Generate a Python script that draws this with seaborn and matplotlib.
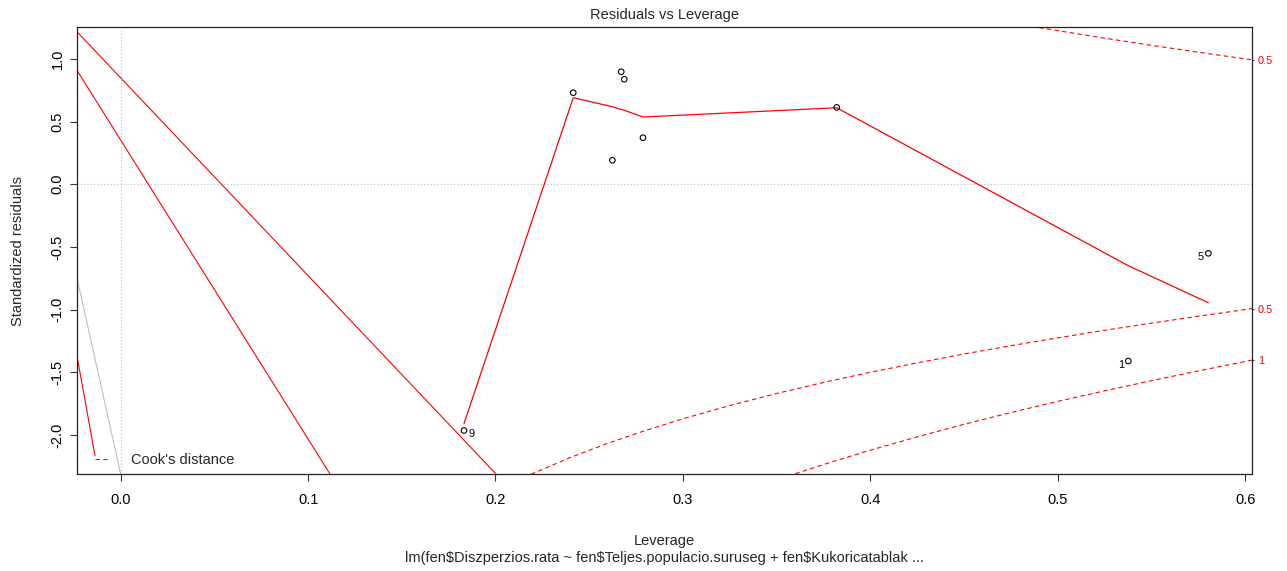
import matplotlib
matplotlib.use("Agg")
import matplotlib.pyplot as plt
import seaborn as sns

# Per-observation hat values and standardized residuals
leverage = [0.1832, 0.2415, 0.2624, 0.2671, 0.2687, 0.2787, 0.3821, 0.5377, 0.5804]
std_resid = [-1.964, 0.730, 0.191, 0.897, 0.837, 0.371, 0.613, -1.410, -0.551]
obs_labels = ["9", "", "", "", "", "", "", "1", "5"]

# Smoothed trend of the residuals, evaluated at the sorted leverages
smooth_fit = [-1.91, 0.690, 0.618, 0.596, 0.590, 0.536, 0.610, -0.650, -0.945]

# Cook's distance contours (level 0.5 above and below, level 1 below)
cook05_up_lev = [0.486, 0.500, 0.525, 0.550, 0.575, 0.6037]
cook05_up_res = [1.259, 1.225, 1.165, 1.108, 1.053, 0.992]
cook05_lo_lev = [0.219, 0.240, 0.260, 0.280, 0.300, 0.325, 0.350, 0.375, 0.400,
                 0.425, 0.450, 0.475, 0.500, 0.525, 0.550, 0.575, 0.6037]
cook05_lo_res = [-2.313, -2.179, -2.066, -1.964, -1.871, -1.765, -1.669, -1.581, -1.500,
                 -1.425, -1.354, -1.288, -1.225, -1.165, -1.108, -1.053, -0.992]
cook1_lo_lev = [0.360, 0.380, 0.400, 0.425, 0.450, 0.475, 0.500, 0.525, 0.550, 0.575, 0.6037]
cook1_lo_res = [-2.309, -2.212, -2.121, -2.015, -1.915, -1.821, -1.732, -1.648, -1.567,
                -1.489, -1.403]
cook_levels = ["0.5", "0.5", "1"]

# Extra straight segments on the left of the panel
seg_a_lev, seg_a_res = [-0.0233, 0.2003], [1.216, -2.311]
seg_b_lev, seg_b_res = [-0.0233, 0.1117], [0.908, -2.311]
seg_c_lev, seg_c_res = [-0.0233, -0.0137], [-1.370, -2.165]
seg_grey_lev, seg_grey_res = [-0.0233, 0.0], [-0.748, -2.311]

x_ticks = [0.0, 0.1, 0.2, 0.3, 0.4, 0.5, 0.6]
x_tick_labels = ["0.0", "0.1", "0.2", "0.3", "0.4", "0.5", "0.6"]
y_ticks = [-2.0, -1.5, -1.0, -0.5, 0.0, 0.5, 1.0]
y_tick_labels = ["-2.0", "-1.5", "-1.0", "-0.5", "0.0", "0.5", "1.0"]

sns.set_theme(style="white")
plt.rcParams.update({
    "font.family": ["Liberation Sans", "DejaVu Sans"],
    "axes.unicode_minus": False,
    "text.parse_math": False,
})

W, H = 1287, 571
fig = plt.figure(figsize=(W / 100, H / 100), dpi=100)
ax = fig.add_axes([77 / W, 1 - 474 / H, 1175 / W, 447 / H])
ax.set_xlim(-0.0233, 0.6037)
ax.set_ylim(-2.311, 1.254)

grey_dot = dict(color="#BEBEBE", lw=0.8, ls=(0, (1, 2)), zorder=1)
ax.axhline(0, **grey_dot)
ax.axvline(0, **grey_dot)

ax.plot(seg_grey_lev, seg_grey_res, color="#BEBEBE", lw=0.8, zorder=2)
for lx, ly in [(seg_a_lev, seg_a_res), (seg_b_lev, seg_b_res), (seg_c_lev, seg_c_res)]:
    ax.plot(lx, ly, color="red", lw=0.8, zorder=2)

dash = (0, (4, 3))
ax.plot(cook05_up_lev, cook05_up_res, color="red", lw=0.8, ls=dash, zorder=2)
ax.plot(cook05_lo_lev, cook05_lo_res, color="red", lw=0.8, ls=dash, zorder=2)
ax.plot(cook1_lo_lev, cook1_lo_res, color="red", lw=0.8, ls=dash, zorder=2)

sns.lineplot(x=leverage, y=smooth_fit, color="red", lw=0.9, estimator=None,
             sort=False, ax=ax, zorder=3)
sns.scatterplot(x=leverage, y=std_resid, marker="o", s=16, facecolor="none",
                edgecolor="black", linewidth=0.8, ax=ax, zorder=4)

mid = (ax.get_xlim()[0] + ax.get_xlim()[1]) / 2
for lx, ly, lab in zip(leverage, std_resid, obs_labels):
    if not lab:
        continue
    right = lx < mid
    ax.annotate(lab, (lx, ly), xytext=(3.2 if right else -3.2, -2.8),
                textcoords="offset points", ha="left" if right else "right",
                va="center", fontsize=7.9, color="black", annotation_clip=False)

legend_handle = [plt.Line2D([], [], color="red", lw=0.8, ls=dash)]
ax.legend(legend_handle, ["Cook's distance"], loc="lower left",
          bbox_to_anchor=((95 - 77) / 1175, (474 - 467.5) / 447), frameon=False,
          borderpad=0, borderaxespad=0, handlelength=1.03, handletextpad=1.44,
          fontsize=10.5)

ax.set_xticks(x_ticks, x_tick_labels)
ax.set_yticks(y_ticks, y_tick_labels)
ax.tick_params(axis="both", which="major", direction="out", length=5, width=0.8,
               color="#333333", labelsize=10.5, labelcolor="black",
               bottom=True, left=True)
ax.tick_params(axis="x", pad=9)
ax.tick_params(axis="y", pad=4, labelrotation=90)
for lbl in ax.get_yticklabels():
    lbl.set_va("center")
for sp in ax.spines.values():
    sp.set_visible(True)
    sp.set_color("#222222")
    sp.set_linewidth(0.9)

ax2 = ax.twinx()
ax2.set_ylim(ax.get_ylim())
ax2.set_yticks([cook05_up_res[-1], cook05_lo_res[-1], cook1_lo_res[-1]], cook_levels)
ax2.tick_params(axis="y", right=True, length=1.2, width=0.8, color="#333333",
                labelsize=7.9, labelcolor="red", pad=3)
for sp in ax2.spines.values():
    sp.set_visible(False)
ax2.grid(False)

cx = (77 + 1252) / 2 / W
fig.text(cx, 1 - 19.5 / H, "Residuals vs Leverage", ha="center", va="baseline", fontsize=10.5)
fig.text(cx, 1 - 545 / H, "Leverage", ha="center", va="baseline", fontsize=10.5)
fig.text(cx, 1 - 562 / H,
         "lm(fen$Diszperzios.rata ~ fen$Teljes.populacio.suruseg + fen$Kukoricatablak ...",
         ha="center", va="baseline", fontsize=10.5)
fig.text(22.5 / W, 1 - 250.5 / H, "Standardized residuals", rotation=90,
         rotation_mode="anchor", ha="center", va="baseline", fontsize=10.5)

fig.savefig("out.png", dpi=100, facecolor="white")
